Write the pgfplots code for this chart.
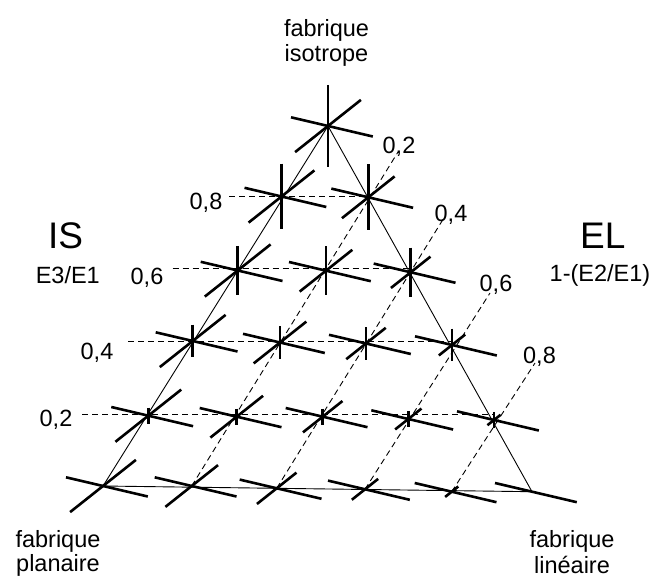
\documentclass[border=0pt]{standalone}
\usepackage{fontspec}
\setmainfont{Liberation Sans}
\usepackage{pgfplots}
\usepackage{pgfplotstable}
\pgfplotsset{compat=1.18}

% grid points of the diagram: position (px), IS = E3/E1, EL = 1-(E2/E1)
\pgfplotstableread{
x     y     is   el
328   126   1.0  0.0
281.5 196.5 0.8  0.0
368.3 197.3 0.8  0.2
237.7 270.5 0.6  0.0
326   270.7 0.6  0.2
410.7 272.3 0.6  0.4
192.7 341   0.4  0.0
280   342.5 0.4  0.2
366   343.5 0.4  0.4
452   345   0.4  0.6
148.3 415.7 0.2  0.0
236.7 416.7 0.2  0.2
322.7 416.7 0.2  0.4
408.3 419   0.2  0.6
494   420   0.2  0.8
103   486   0.0  0.0
191.7 486   0.0  0.2
276.7 488.3 0.0  0.4
365   489.3 0.0  0.6
451.7 491.7 0.0  0.8
532   491.7 0.0  1.0
}\pts

\newcommand{\txt}{\fontsize{23.5bp}{28bp}\selectfont}
\newcommand{\bigtxt}{\fontsize{37bp}{40bp}\selectfont}

\begin{document}
\begin{tikzpicture}
\begin{axis}[
    width=669bp, height=571bp, scale only axis,
    xmin=0, xmax=669, ymin=0, ymax=571,
    y dir=reverse,
    axis lines=none, ticks=none,
    clip=false,
    every node/.style={inner sep=0pt, anchor=base},
    ]
    % triangle
    \addplot[black, line width=0.9bp] coordinates {(103,486) (328,126) (532,491.7) (103,486)};

    % horizontal dashed lines (IS)
    \addplot[black, line width=0.9bp, dash pattern=on 6bp off 4bp] coordinates {(229,196) (368.3,196)};
    \addplot[black, line width=0.9bp, dash pattern=on 6bp off 4bp] coordinates {(172.6,268.3) (410.7,268.3)};
    \addplot[black, line width=0.9bp, dash pattern=on 6bp off 4bp] coordinates {(128,341) (452,341)};
    \addplot[black, line width=0.9bp, dash pattern=on 6bp off 4bp] coordinates {(82,414.3) (494,414.3)};

    % diagonal dashed lines (EL)
    \addplot[black, line width=0.9bp, dash pattern=on 6bp off 4bp] coordinates {(191.7,486) (398,152)};
    \addplot[black, line width=0.9bp, dash pattern=on 6bp off 4bp] coordinates {(276.7,488.3) (444.5,217)};
    \addplot[black, line width=0.9bp, dash pattern=on 6bp off 4bp] coordinates {(365,489.3) (490,293)};
    \addplot[black, line width=0.9bp, dash pattern=on 6bp off 4bp] coordinates {(451.7,491.7) (535,363)};

    % E1 axis (constant length)
    \addplot[black, line width=2.6bp, quiver={u=81.8, v=19.2}]
        table[x expr=\thisrow{x}-37, y expr=\thisrow{y}-8.7] {\pts};
    % E2 axis
    \addplot[black, line width=2.6bp, quiver={u=65.8*(1-\thisrow{el}), v=-52.2*(1-\thisrow{el})}]
        table[x expr=\thisrow{x}-32.9*(1-\thisrow{el}), y expr=\thisrow{y}+26.1*(1-\thisrow{el})] {\pts};
    % E3 axis (vertical)
    \addplot[black, line width=2.6bp, quiver={u=0, v=82*\thisrow{is}}]
        table[x expr=\thisrow{x}, y expr=\thisrow{y}-41*\thisrow{is}] {\pts};

    % labels
    \node at (axis cs:326.5,30.7) {\txt fabrique};
    \node at (axis cs:326.5,55) {\txt isotrope};
    \node at (axis cs:58,541) {\txt fabrique};
    \node at (axis cs:58,565) {\txt planaire};
    \node at (axis cs:572,541) {\txt fabrique};
    \node at (axis cs:572,565) {\txt linéaire};

    \node at (axis cs:65.5,236) {\bigtxt IS};
    \node at (axis cs:67.8,275) {\txt E3/E1};
    \node at (axis cs:602.8,236) {\bigtxt EL};
    \node at (axis cs:600,275) {\txt 1-(E2/E1)};

    \node at (axis cs:206,202.6) {\txt 0,8};
    \node at (axis cs:147,277.6) {\txt 0,6};
    \node at (axis cs:97,352.5) {\txt 0,4};
    \node at (axis cs:56,420) {\txt 0,2};

    \node at (axis cs:399,147) {\txt 0,2};
    \node at (axis cs:451,215) {\txt 0,4};
    \node at (axis cs:496,285) {\txt 0,6};
    \node at (axis cs:539.5,357) {\txt 0,8};
\end{axis}
\path (0,0) rectangle (669bp,571bp);
\end{tikzpicture}
\end{document}
